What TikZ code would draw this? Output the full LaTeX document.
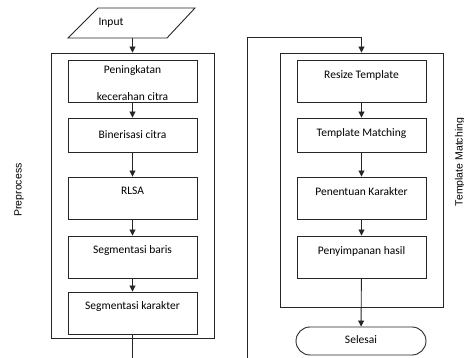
\documentclass[tikz,border=0pt]{standalone}
\usepackage{fontspec}
\setmainfont{Carlito}
\newfontfamily\labfont{Liberation Sans}
\usetikzlibrary{arrows.meta}
\begin{document}
\begin{tikzpicture}[x=1pt,y=-1pt,
  ln/.style={draw=black!85,line width=0.9pt},
  arr/.style={ln,-{Triangle[width=6pt,length=6pt]}},
  stepbox/.style={ln,rectangle,minimum width=129pt,inner sep=0pt},
  frame/.style={ln,rectangle,inner sep=0pt},
  txt/.style={inner sep=0pt,font=\fontsize{11.5}{13}\selectfont},
  side/.style={inner sep=0pt,font=\labfont\fontsize{10.5}{12}\selectfont,rotate=90}]
\useasboundingbox (0,0) rectangle (464,358);
% Input parallelogram
\coordinate (i1) at (98,8);
\coordinate (i2) at (195,8);
\coordinate (i3) at (167,38);
\coordinate (i4) at (68,38);
\coordinate (inb) at (132.5,38);
\draw[ln] (i1) -- (i2) -- (i3) -- (i4) -- cycle;
\node[txt] (inp) at (111,23) {Input};
% left frame
\node[frame,minimum width=163pt,minimum height=285pt] (pre) at (132.5,195.5) {};
\node[stepbox,minimum height=42pt] (b1) at (132.5,81) {};
\node[stepbox,minimum height=34pt] (b2) at (132.5,135) {};
\node[stepbox,minimum height=42pt] (b3) at (132.5,198) {};
\node[stepbox,minimum height=42pt] (b4) at (132.5,257) {};
\node[stepbox,minimum height=42pt] (b5) at (132.5,313) {};
\node[txt] (t1a) at (132.5,70) {Peningkatan};
\node[txt] (t1b) at (132.5,97) {kecerahan citra};
\node[txt] (t2) at (132.5,135) {Binerisasi citra};
\node[txt] (t3) at (132.5,191) {RLSA};
\node[txt] (t4) at (132.5,250) {Segmentasi baris};
\node[txt] (t5) at (132.5,306) {Segmentasi karakter};
\node[side] (lp) at (19,190) {Preprocess};
\draw[arr] (inb) -- (pre.north);
\draw[arr] (b1) -- (b2);
\draw[arr] (b2) -- (b3);
\draw[arr] (b3) -- (b4);
\draw[arr] (b4) -- (b5);
\coordinate (lend) at (132.5,358);
\draw[ln] (b5.south) -- (lend);
% right frame
\node[frame,minimum width=163pt,minimum height=254pt] (tm) at (361.5,180) {};
\node[stepbox,minimum height=42pt] (r1) at (361.5,81) {};
\node[stepbox,minimum height=34pt] (r2) at (361.5,135) {};
\node[stepbox,minimum height=42pt] (r3) at (361.5,198) {};
\node[stepbox,minimum height=42pt] (r4) at (361.5,257) {};
\node[ln,rectangle,rounded corners=14pt,minimum width=130pt,minimum height=28pt,inner sep=0pt] (sel) at (361,341) {};
\node[txt] (s1) at (361.5,75) {Resize Template};
\node[txt] (s2) at (361.5,133) {Template Matching};
\node[txt] (s3) at (361.5,192) {Penentuan Karakter};
\node[txt] (s4) at (361.5,251) {Penyimpanan hasil};
\node[txt] (s5) at (361,340) {Selesai};
\node[side] (lt) at (460,162) {Template Matching};
\coordinate (lp1) at (247,358);
\coordinate (lp2) at (247,37);
\coordinate (lp3) at (361.5,37);
\draw[arr] (lp1) -- (lp2) -- (lp3) -- (tm.north);
\draw[arr] (r1) -- (r2);
\draw[arr] (r2) -- (r3);
\draw[arr] (r3) -- (r4);
\draw[arr] (r4) -- (sel);
\end{tikzpicture}
\end{document}
